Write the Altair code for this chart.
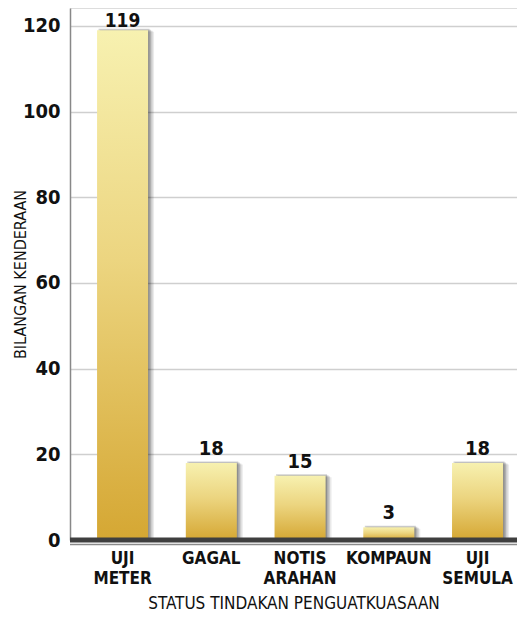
import altair as alt
import pandas as pd

categories = ["UJI METER", "GAGAL", "NOTIS ARAHAN", "KOMPAUN", "UJI SEMULA"]
values = [119, 18, 15, 3, 18]
y_ticks = [0, 20, 40, 60, 80, 100, 120]

df = pd.DataFrame({"status": categories, "count": values})
base_df = pd.DataFrame({"v": [0]})

FONT = "Liberation Sans Narrow, Arial Narrow, DejaVu Sans Condensed, Roboto, sans-serif"

xscale = alt.Scale(domain=categories, paddingInner=0.425, paddingOuter=0.231, align=0.66)
yscale = alt.Scale(domain=[0, 124.2], nice=False, zero=True)

x_enc = alt.X(
    "status:N",
    sort=categories,
    scale=xscale,
    axis=alt.Axis(
        title="STATUS TINDAKAN PENGUATKUASAAN",
        labelAngle=0,
        labelExpr="split(datum.label, ' ')",
        labelFont=FONT,
        labelFontWeight="bold",
        labelFontSize=17,
        labelLineHeight=20,
        labelColor="#111",
        labelPadding=10,
        ticks=False,
        domain=False,
        titleFont=FONT,
        titleFontWeight="normal",
        titleFontSize=17,
        titleColor="#111",
        titleY=68,
        titleBaseline="alphabetic",
    ),
)

y_enc = alt.Y(
    "count:Q",
    scale=yscale,
    axis=alt.Axis(
        title="BILANGAN KENDERAAN",
        values=y_ticks,
        labelFont=FONT,
        labelFontWeight="bold",
        labelFontSize=20,
        labelColor="#111",
        labelPadding=10,
        ticks=False,
        domainColor="#888",
        domainWidth=1.5,
        gridColor="#cfcfcf",
        gridWidth=1.5,
        titleFont=FONT,
        titleFontWeight="normal",
        titleFontSize=16,
        titleColor="#111",
        titleX=-50,
        titleBaseline="middle",
    ),
)

shadow_layers = []
for dx, dy, op in [(1.5, -1.5, 0.18), (3, -0.5, 0.15), (4.5, 0.5, 0.12), (6, 1.5, 0.08)]:
    shadow_layers.append(
        alt.Chart(df)
        .mark_bar(color="#000", opacity=op, xOffset=dx, yOffset=dy)
        .encode(x=x_enc, y=y_enc)
    )

gradient = alt.Gradient(
    gradient="linear",
    x1=0, y1=0, x2=0, y2=1,
    stops=[
        alt.GradientStop(color="#f7f1b0", offset=0),
        alt.GradientStop(color="#ecd580", offset=0.45),
        alt.GradientStop(color="#d5a733", offset=1),
    ],
)

bars = alt.Chart(df).mark_bar(color=gradient).encode(x=x_enc, y=y_enc)

label_enc = dict(
    x=alt.X("status:N", sort=categories, scale=xscale),
    y=alt.Y("count:Q", scale=yscale),
    text="count:Q",
)
labels_tall = (
    alt.Chart(df)
    .transform_filter("datum.count >= 100")
    .mark_text(font=FONT, fontWeight="bold", fontSize=19, color="#111", dy=-3, baseline="alphabetic")
    .encode(**label_enc)
)
labels_short = (
    alt.Chart(df)
    .transform_filter("datum.count < 100")
    .mark_text(font=FONT, fontWeight="bold", fontSize=20, color="#111", dy=-8, baseline="alphabetic")
    .encode(**label_enc)
)

base_dark = alt.Chart(base_df).mark_rule(color="#3f3f3f", strokeWidth=5).encode(y=alt.Y("v:Q", scale=yscale))
base_light = alt.Chart(base_df).mark_rule(color="#8a8a8a", strokeWidth=1.5, yOffset=4.5).encode(y=alt.Y("v:Q", scale=yscale))

chart = (
    alt.layer(*shadow_layers, bars, labels_tall, labels_short, base_dark, base_light)
    .properties(
        width=447,
        height=532,
        autosize=alt.AutoSizeParams(type="none"),
        padding={"left": 62, "top": 0, "right": 0, "bottom": 74},
    )
    .configure_view(stroke=None)
    .configure(background="white")
)

chart.save("out.html", embed_options={"renderer": "svg", "actions": False})
